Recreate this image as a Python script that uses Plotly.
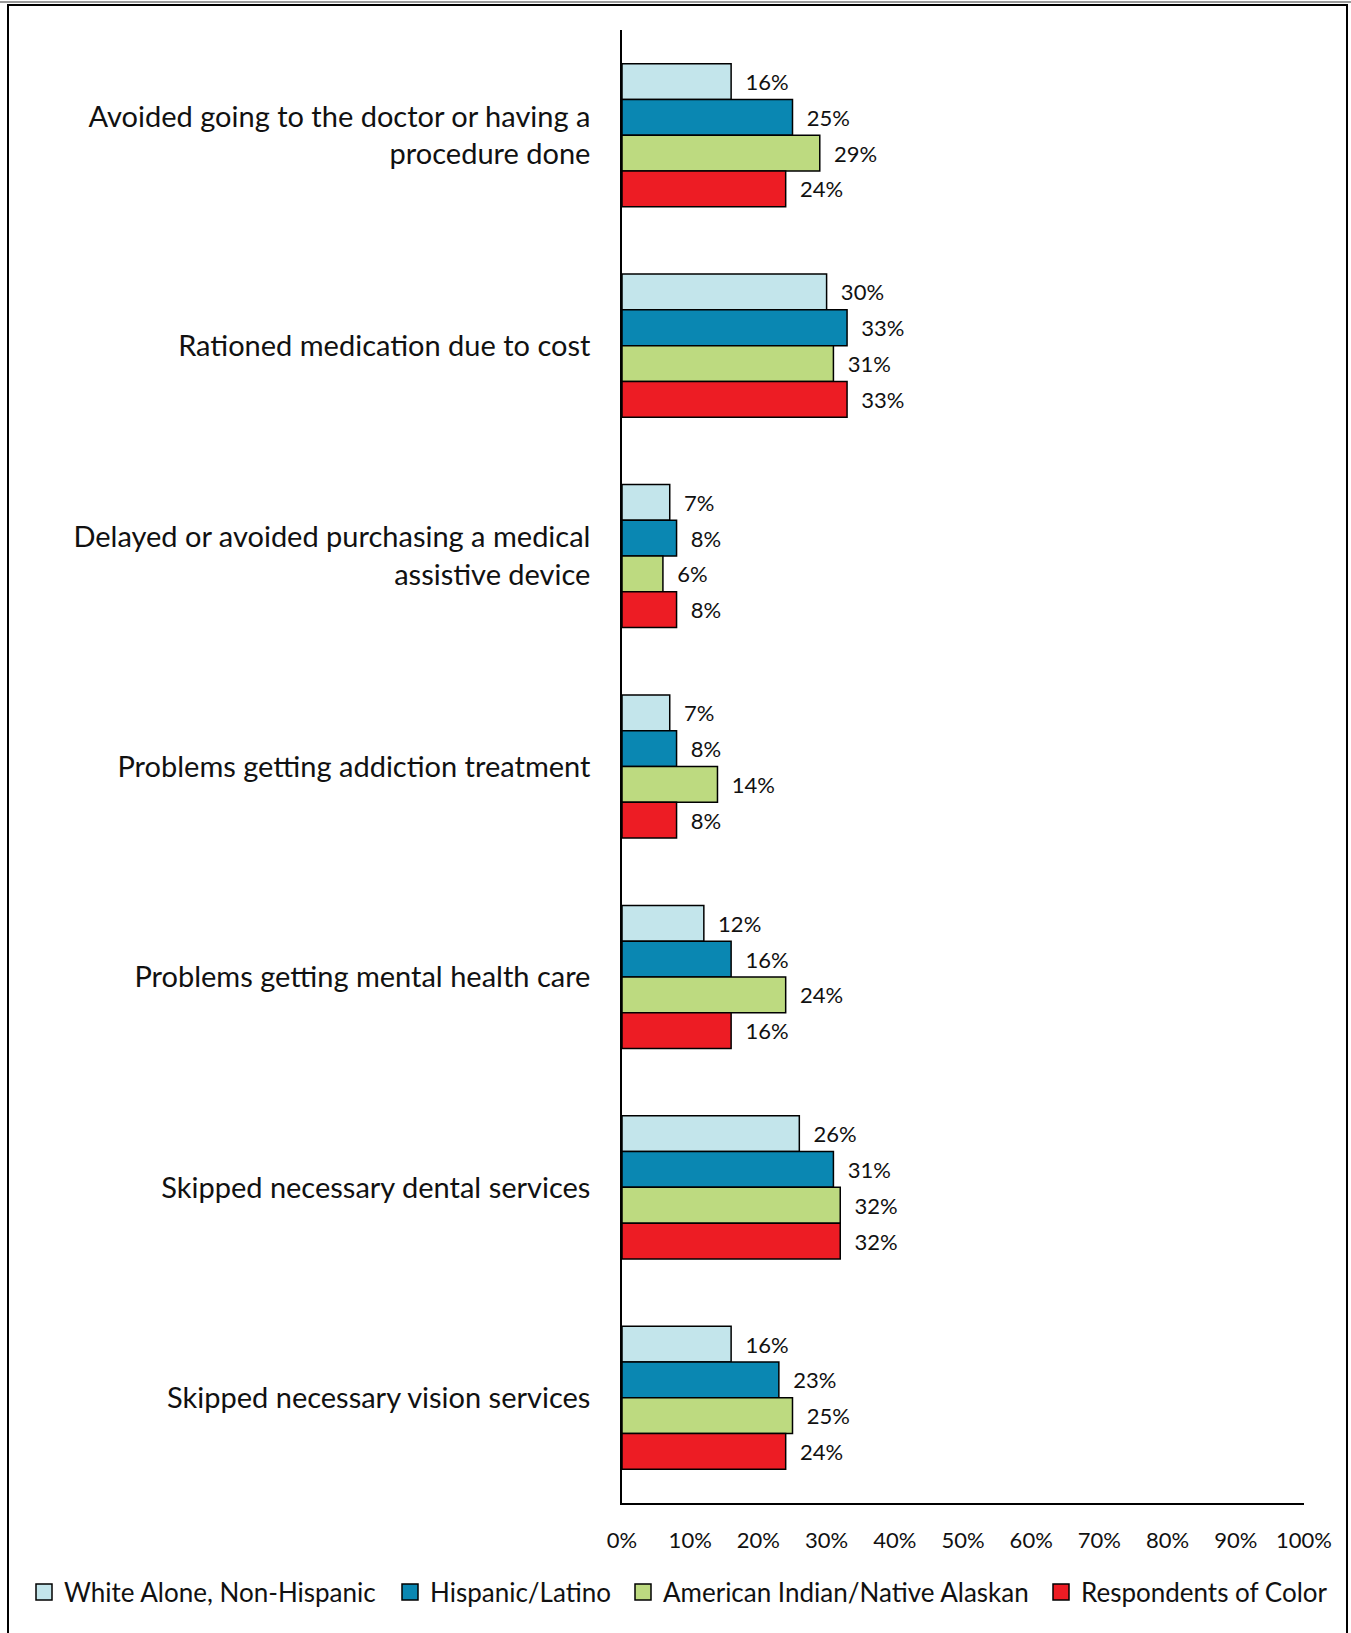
import plotly.graph_objects as go

categories = [
    "Avoided going to the doctor or having a<br>procedure done",
    "Rationed medication due to cost",
    "Delayed or avoided purchasing a medical<br>assistive device",
    "Problems getting addiction treatment",
    "Problems getting mental health care",
    "Skipped necessary dental services",
    "Skipped necessary vision services",
]
series_names = ["White Alone, Non-Hispanic", "Hispanic/Latino",
                "American Indian/Native Alaskan", "Respondents of Color"]
white = [16, 30, 7, 7, 12, 26, 16]
hispanic = [25, 33, 8, 8, 16, 31, 23]
aian = [29, 31, 6, 14, 24, 32, 25]
poc = [24, 33, 8, 8, 16, 32, 24]
series_values = [white, hispanic, aian, poc]
colors = ["#C3E5EB", "#0A87B2", "#BDDA80", "#ED1C24"]
tick_vals = [0, 10, 20, 30, 40, 50, 60, 70, 80, 90, 100]
tick_text = [f"{v}%" for v in tick_vals]

FONT = "Lato"
legend_ids = ["legend", "legend2", "legend3", "legend4"]
legend_px = [24, 390, 623, 1041]

fig = go.Figure()
for name, vals, col in zip(series_names, series_values, colors):
    fig.add_trace(go.Bar(
        y=categories, x=vals, name=name, orientation="h", showlegend=False,
        marker=dict(color=col, line=dict(color="black", width=1.5)),
        text=[f"{v}%" for v in vals], texttemplate="  %{text}", textposition="outside",
        textfont=dict(family=FONT, size=22, color="#111"),
        cliponaxis=False,
    ))
for name, col, lid in zip(series_names, colors, legend_ids):
    fig.add_trace(go.Scatter(
        x=[None], y=[None], mode="markers", name=name, legend=lid,
        marker=dict(symbol="square", size=18, color=col,
                    line=dict(color="black", width=1.5)),
    ))

W, H = 1351, 1633
L, T = 622, 30
pw, ph = 682, 1473
R, B = W - L - pw, H - T - ph

def px_to_paper_x(px):
    return (px - L) / pw

def px_to_paper_y(py):
    return (T + ph - py) / ph

legends = {}
for lid, lx in zip(legend_ids, legend_px):
    legends[lid] = dict(orientation="h", x=px_to_paper_x(lx), xanchor="left",
                        y=px_to_paper_y(1592), yanchor="middle",
                        font=dict(family=FONT, size=26, color="#111"),
                        itemwidth=30, tracegroupgap=0, itemsizing="trace",
                        bgcolor="rgba(0,0,0,0)")

fig.update_layout(
    width=W, height=H,
    margin=dict(l=L, r=R, t=T, b=B, pad=0),
    barmode="group", bargap=0.32, bargroupgap=0,
    plot_bgcolor="white", paper_bgcolor="white",
    font=dict(family=FONT, color="#111"),
    showlegend=True,
    yaxis=dict(autorange="reversed", showline=True, linecolor="black", linewidth=1.5,
               ticks="", showgrid=False, ticklabelstandoff=24,
               tickfont=dict(family=FONT, size=29, color="#111")),
    xaxis=dict(range=[0, 100], tickvals=tick_vals, ticktext=tick_text,
               showline=True, linecolor="black", linewidth=1.5, ticks="",
               showgrid=False, zeroline=False, ticklabelstandoff=17,
               tickfont=dict(family=FONT, size=22, color="#111")),
    shapes=[
        dict(type="line", xref="paper", yref="paper",
             x0=px_to_paper_x(8), x1=px_to_paper_x(8),
             y0=px_to_paper_y(1640), y1=px_to_paper_y(4),
             line=dict(color="black", width=2), layer="above"),
        dict(type="line", xref="paper", yref="paper",
             x0=px_to_paper_x(1347), x1=px_to_paper_x(1347),
             y0=px_to_paper_y(1640), y1=px_to_paper_y(4),
             line=dict(color="black", width=2), layer="above"),
        dict(type="line", xref="paper", yref="paper",
             x0=px_to_paper_x(7), x1=px_to_paper_x(1348),
             y0=px_to_paper_y(5), y1=px_to_paper_y(5),
             line=dict(color="black", width=2), layer="above"),
        dict(type="line", xref="paper", yref="paper",
             x0=px_to_paper_x(0), x1=px_to_paper_x(1351),
             y0=px_to_paper_y(2), y1=px_to_paper_y(2),
             line=dict(color="#999999", width=2), layer="above"),
    ],
    **legends,
)
fig.write_html("out.html", config={"displayModeBar": False},
               post_script="document.body.style.margin='0';")
